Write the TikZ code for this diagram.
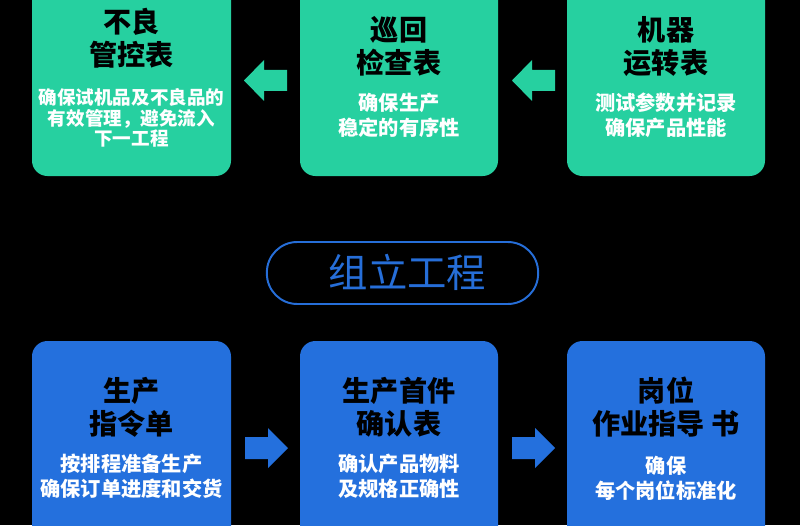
\documentclass[tikz,border=0pt]{standalone}
\usepackage{fontspec}
\setmainfont{Noto Sans CJK SC}
\definecolor{boxgreen}{RGB}{38,208,160}
\definecolor{boxblue}{RGB}{36,112,221}
\definecolor{pillblue}{RGB}{38,110,216}

\tikzset{
	title/.style={align=center,inner sep=0pt,text=black,font=\fontsize{20}{23.5}\selectfont\bfseries},
	body/.style={align=center,inner sep=0pt,text=white,font=\fontsize{14.4}{17.8}\selectfont\bfseries},
	tightbody/.style={body,font=\fontsize{13.2}{14.4}\selectfont\bfseries}
}

\begin{document}
\begin{tikzpicture}[x=0.025cm,y=-0.025cm]
	\fill[black] (0,0) rectangle (800,525);
	\clip (0,0) rectangle (800,525);

	% top row
	\fill[boxgreen,rounded corners=11pt] (32,-30) rectangle (231,176);
	\fill[boxgreen,rounded corners=11pt] (300,-30) rectangle (498,176);
	\fill[boxgreen,rounded corners=11pt] (567,-30) rectangle (765,176);

	\node[title] (t1) at (131.5,38.5) {不良\\管控表};
	\node[tightbody] (d1) at (131.5,118) {确保试机品及不良品的\\有效管理，避免流入\\下一工程};
	\node[title] (t2) at (399,46.5) {巡回\\检查表};
	\node[body] (d2) at (399,115.5) {确保生产\\稳定的有序性};
	\node[title] (t3) at (666,46.5) {机器\\运转表};
	\node[body] (d3) at (666,115.5) {测试参数并记录\\确保产品性能};

	\fill[boxgreen] (244,80.5) -- (264,60) -- (264,70) -- (287,70) -- (287,91) -- (264,91) -- (264,101) -- cycle;
	\fill[boxgreen] (512,80.5) -- (532,60) -- (532,70) -- (555,70) -- (555,91) -- (532,91) -- (532,101) -- cycle;

	% middle label
	\node[draw=pillblue,line width=1.4pt,rounded corners=0.76cm,minimum width=6.78cm,minimum height=1.55cm] (pill) at (402.5,273) {};
	\node[text=pillblue,inner sep=0pt,font=\fontsize{28}{30}\selectfont] (pilltext) at (407.5,272) {组立工程};

	% bottom row
	\fill[boxblue,rounded corners=11pt] (32,341) rectangle (231,560);
	\fill[boxblue,rounded corners=11pt] (300,341) rectangle (498,560);
	\fill[boxblue,rounded corners=11pt] (567,341) rectangle (765,560);

	\node[title] (b1) at (131.5,407) {生产\\指令单};
	\node[body] (e1) at (131.5,476.5) {按排程准备生产\\确保订单进度和交货};
	\node[title] (b2) at (399,407) {生产首件\\确认表};
	\node[body] (e2) at (399,476.5) {确认产品物料\\及规格正确性};
	\node[title] (b3) at (666,407) {岗位\\作业指导 书};
	\node[body] (e3) at (666,478) {确保\\每个岗位标准化};

	\fill[boxblue] (288,448) -- (268,428) -- (268,437) -- (245,437) -- (245,459) -- (268,459) -- (268,468) -- cycle;
	\fill[boxblue] (555,448) -- (535,428) -- (535,437) -- (512,437) -- (512,459) -- (535,459) -- (535,468) -- cycle;

\end{tikzpicture}
\end{document}
